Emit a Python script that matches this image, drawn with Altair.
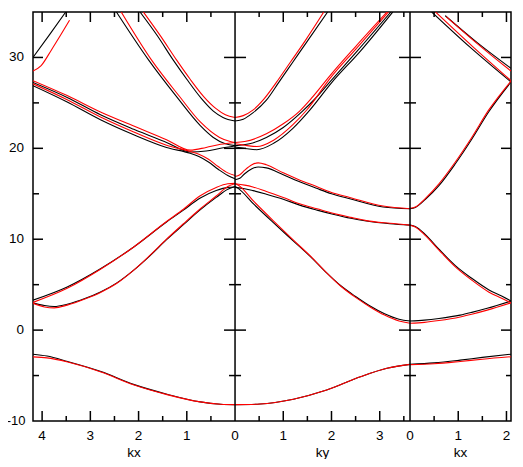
import altair as alt
import pandas as pd

# extents of the three k-path panels
KX1 = 4.189   # left panel: kx from KX1 down to 0
KY = 3.628    # middle panel: ky from 0 to KY
KX3 = 2.094   # right panel: kx from 0 to KX3

# ---------------- panel 1 (kx, decreasing left to right) ----------------
p1_low_k = [4.19, 3.9, 3.47, 2.78, 2.09, 1.41, 0.72, 0.3, 0.0]
p1_low_black = [-2.65, -2.85, -3.45, -4.55, -6.0, -7.05, -7.9, -8.15, -8.2]
p1_low_red = [-2.95, -3.05, -3.5, -4.6, -6.05, -7.1, -7.9, -8.15, -8.2]

p1_va_k = [4.19, 3.48, 2.79, 2.10, 1.42, 1.07, 0.73, 0.39, 0.15, 0.0]
p1_va_black = [3.3, 4.75, 6.75, 9.15, 11.9, 13.2, 14.5, 15.35, 15.7, 15.75]
p1_va_red = [3.05, 4.6, 6.7, 9.15, 11.95, 13.3, 14.75, 15.7, 16.1, 16.15]

p1_vb_k = [4.19, 3.95, 3.75, 3.48, 3.1, 2.79, 2.45, 2.10, 1.76, 1.42, 1.07, 0.73, 0.39, 0.15, 0.0]
p1_vb_black = [3.0, 2.7, 2.6, 2.85, 3.5, 4.2, 5.2, 6.6, 8.2, 9.95, 11.6, 13.2, 14.6, 15.5, 15.8]
p1_vb_red = [2.95, 2.55, 2.45, 2.75, 3.45, 4.15, 5.15, 6.6, 8.25, 10.0, 11.7, 13.3, 14.75, 15.8, 16.1]

p1_p_k = [4.19, 3.48, 2.79, 2.10, 1.42, 0.93, 0.6, 0.3, 0.0]
p1_p_black = [27.25, 25.6, 23.7, 22.1, 20.65, 19.6, 19.7, 20.0, 20.25]
p1_p_red = [27.45, 25.8, 24.0, 22.45, 20.95, 19.8, 20.1, 20.45, 20.65]

p1_q_k = [4.19, 3.48, 2.79, 2.10, 1.42, 0.93, 0.75, 0.55, 0.35, 0.15, 0.0]
p1_q_black = [26.9, 25.1, 23.15, 21.5, 20.1, 19.45, 19.1, 18.5, 17.7, 17.0, 16.65]
p1_q_red = [27.1, 25.35, 23.45, 21.8, 20.35, 19.65, 19.35, 18.8, 18.0, 17.3, 17.0]

p1_t_k_black = [4.19, 3.86, 3.51]
p1_t_black = [30.0, 32.4, 35.0]
p1_t_k_red = [4.19, 4.02, 3.81, 3.6, 3.43]
p1_t_red = [28.5, 29.1, 30.8, 32.6, 34.1]

p1_par_k_black = [1.97, 1.6, 1.28, 1.0, 0.7, 0.45, 0.25, 0.0]
p1_par_black = [35.0, 32.3, 29.7, 27.6, 25.5, 24.1, 23.4, 23.0]
p1_par_k_red = [1.90, 1.55, 1.21, 0.93, 0.65, 0.4, 0.2, 0.0]
p1_par_red = [35.0, 32.4, 29.7, 27.6, 25.7, 24.4, 23.7, 23.4]

p1_out_k_black = [2.46, 1.79, 1.2, 0.72, 0.45, 0.2, 0.0]
p1_out_black = [35.0, 29.7, 25.6, 22.5, 21.2, 20.5, 20.3]
p1_out_k_red = [2.36, 1.73, 1.15, 0.72, 0.32, 0.1, 0.0]
p1_out_red = [35.0, 29.7, 25.7, 22.9, 21.2, 20.75, 20.65]

# ---------------- panel 2 (ky) ----------------
p2_low_k = [0.0, 0.52, 1.21, 1.9, 2.6, 3.15, 3.628]
p2_low_black = [-8.2, -8.13, -7.6, -6.6, -5.13, -4.2, -3.77]
p2_low_red = [-8.2, -8.13, -7.6, -6.6, -5.13, -4.2, -3.77]

p2_steep_k = [0.0, 0.05, 0.4, 0.8, 1.2, 1.6, 1.9, 2.2, 2.5, 2.8, 3.1, 3.4, 3.628]
p2_steep_black = [15.8, 15.65, 13.8, 11.8, 9.85, 7.9, 6.3, 4.85, 3.7, 2.65, 1.8, 1.2, 1.0]
p2_steep_red = [16.1, 16.0, 14.1, 12.0, 9.95, 7.95, 6.3, 4.8, 3.6, 2.55, 1.65, 1.0, 0.75]

p2_gentle_k = [0.0, 0.2, 0.37, 0.65, 1.0, 1.34, 1.7, 2.03, 2.4, 2.72, 3.21, 3.628]
p2_gentle_black = [15.7, 15.55, 15.35, 14.95, 14.4, 13.75, 13.2, 12.75, 12.3, 12.0, 11.7, 11.55]
p2_gentle_red = [16.1, 15.95, 15.75, 15.25, 14.6, 13.9, 13.35, 12.85, 12.4, 12.05, 11.75, 11.55]

p2_hump_k = [0.0, 0.1, 0.2, 0.35, 0.48, 0.65, 1.0, 1.3, 1.69, 2.0, 2.38, 3.07, 3.628]
p2_hump_black = [16.55, 16.7, 17.2, 17.75, 17.95, 17.85, 17.1, 16.4, 15.6, 15.0, 14.45, 13.55, 13.35]
p2_hump_red = [16.9, 17.1, 17.6, 18.2, 18.4, 18.2, 17.3, 16.6, 15.8, 15.15, 14.6, 13.65, 13.35]

p2_par_k_black = [0.0, 0.17, 0.37, 0.65, 0.9, 1.2, 1.5, 1.92]
p2_par_black = [23.0, 23.2, 23.9, 25.3, 27.2, 29.5, 31.8, 35.0]
p2_par_k_red = [0.0, 0.17, 0.37, 0.58, 0.85, 1.15, 1.45, 1.84]
p2_par_red = [23.4, 23.6, 24.2, 25.3, 27.2, 29.5, 31.8, 35.0]

p2_up_k_black = [0.0, 0.3, 0.65, 1.0, 1.4, 1.65, 2.0, 2.55, 3.23]
p2_up_black = [20.3, 20.5, 21.2, 22.3, 24.1, 25.4, 27.5, 30.8, 35.0]
p2_up_k_red = [0.0, 0.2, 0.65, 1.0, 1.34, 1.6, 1.97, 2.5, 3.15]
p2_up_red = [20.65, 20.75, 21.6, 22.7, 24.1, 25.6, 28.0, 31.2, 35.0]

p2_dip_k_black = [0.0, 0.25, 0.45, 0.8, 1.2, 1.55, 2.0, 2.6, 3.27]
p2_dip_black = [20.15, 19.95, 19.85, 20.55, 22.2, 24.2, 27.2, 30.7, 35.0]
p2_dip_k_red = [0.0, 0.25, 0.45, 0.8, 1.2, 1.5, 1.97, 2.5, 3.18]
p2_dip_red = [20.5, 20.3, 20.2, 20.9, 22.6, 24.3, 27.7, 30.9, 35.0]

# ---------------- panel 3 (kx) ----------------
p3_low_k = [0.0, 0.5, 1.04, 1.5, 2.094]
p3_low_black = [-3.75, -3.6, -3.3, -3.0, -2.65]
p3_low_red = [-3.8, -3.7, -3.45, -3.2, -2.93]

p3_x_k = [0.0, 0.3, 0.6, 1.04, 1.28, 1.6, 2.094]
p3_x_black = [1.0, 1.1, 1.28, 1.65, 1.95, 2.4, 3.2]
p3_x_red = [0.75, 0.85, 1.05, 1.45, 1.75, 2.2, 3.0]

p3_w_k = [0.0, 0.11, 0.32, 0.6, 0.94, 1.28, 1.63, 1.9, 2.094]
p3_w_black = [11.55, 11.4, 10.5, 8.9, 7.1, 5.7, 4.45, 3.75, 3.2]
p3_w_red = [11.55, 11.35, 10.4, 8.8, 6.96, 5.5, 4.2, 3.5, 3.0]

p3_v_k = [0.0, 0.11, 0.32, 0.6, 0.94, 1.28, 1.63, 2.094]
p3_v_black = [13.35, 13.5, 14.4, 15.9, 18.3, 21.0, 24.0, 27.3]
p3_v_red = [13.4, 13.55, 14.5, 16.1, 18.5, 21.2, 24.2, 27.4]

p3_u1_k_black = [0.45, 1.25, 2.094]
p3_u1_black = [35.0, 31.1, 27.3]
p3_u1_k_red = [0.53, 1.3, 2.094]
p3_u1_red = [35.0, 31.2, 27.45]

p3_u2_k_black = [0.73, 1.4, 2.094]
p3_u2_black = [34.6, 31.6, 28.8]
p3_u2_k_red = [0.75, 1.4, 2.094]
p3_u2_red = [34.5, 31.5, 28.5]

# ---------------- ticks and labels ----------------
y_major = [0, 10, 20, 30]
y_minor = [-5, 5, 15, 25]
y_labels = ["30", "20", "10", "0"]
y_label_vals = [30, 20, 10, 0]
y_neg_label = ["-10"]
y_neg_val = [-10]

p1_major = [4, 3, 2, 1]
p1_minor = [3.5, 2.5, 1.5, 0.5]
p2_major = [1, 2, 3]
p2_minor = [0.5, 1.5, 2.5, 3.5]
p3_major = [1, 2]
p3_minor = [0.5, 1.5]

p1_ticklabels = ["4", "3", "2", "1", "0"]
p1_ticklabel_k = [4, 3, 2, 1, 0]
p2_ticklabels = ["1", "2", "3"]
p2_ticklabel_k = [1, 2, 3]
p3_ticklabels = ["0", "1", "2"]
p3_ticklabel_k = [0, 1, 2]
panel_titles = ["kx", "ky", "kx"]

YMIN, YMAX = -10, 35
TOTAL = KX1 + KY + KX3


def to_s(panel, k):
    if panel == 1:
        return KX1 - k
    if panel == 2:
        return KX1 + k
    return KX1 + KY + k


segments = [
    (1, "low", "black", p1_low_k, p1_low_black), (1, "low", "red", p1_low_k, p1_low_red),
    (1, "va", "black", p1_va_k, p1_va_black), (1, "va", "red", p1_va_k, p1_va_red),
    (1, "vb", "black", p1_vb_k, p1_vb_black), (1, "vb", "red", p1_vb_k, p1_vb_red),
    (1, "p", "black", p1_p_k, p1_p_black), (1, "p", "red", p1_p_k, p1_p_red),
    (1, "q", "black", p1_q_k, p1_q_black), (1, "q", "red", p1_q_k, p1_q_red),
    (1, "t", "black", p1_t_k_black, p1_t_black), (1, "t", "red", p1_t_k_red, p1_t_red),
    (1, "par", "black", p1_par_k_black, p1_par_black), (1, "par", "red", p1_par_k_red, p1_par_red),
    (1, "out", "black", p1_out_k_black, p1_out_black), (1, "out", "red", p1_out_k_red, p1_out_red),
    (2, "low", "black", p2_low_k, p2_low_black), (2, "low", "red", p2_low_k, p2_low_red),
    (2, "steep", "black", p2_steep_k, p2_steep_black), (2, "steep", "red", p2_steep_k, p2_steep_red),
    (2, "gentle", "black", p2_gentle_k, p2_gentle_black), (2, "gentle", "red", p2_gentle_k, p2_gentle_red),
    (2, "hump", "black", p2_hump_k, p2_hump_black), (2, "hump", "red", p2_hump_k, p2_hump_red),
    (2, "par", "black", p2_par_k_black, p2_par_black), (2, "par", "red", p2_par_k_red, p2_par_red),
    (2, "up", "black", p2_up_k_black, p2_up_black), (2, "up", "red", p2_up_k_red, p2_up_red),
    (2, "dip", "black", p2_dip_k_black, p2_dip_black), (2, "dip", "red", p2_dip_k_red, p2_dip_red),
    (3, "low", "black", p3_low_k, p3_low_black), (3, "low", "red", p3_low_k, p3_low_red),
    (3, "x", "black", p3_x_k, p3_x_black), (3, "x", "red", p3_x_k, p3_x_red),
    (3, "w", "black", p3_w_k, p3_w_black), (3, "w", "red", p3_w_k, p3_w_red),
    (3, "v", "black", p3_v_k, p3_v_black), (3, "v", "red", p3_v_k, p3_v_red),
    (3, "u1", "black", p3_u1_k_black, p3_u1_black), (3, "u1", "red", p3_u1_k_red, p3_u1_red),
    (3, "u2", "black", p3_u2_k_black, p3_u2_black), (3, "u2", "red", p3_u2_k_red, p3_u2_red),
]

rows = []
for panel, name, color, ks, es in segments:
    pts = sorted((to_s(panel, k), e) for k, e in zip(ks, es))
    for i, (s, e) in enumerate(pts):
        rows.append({"s": s, "E": e, "color": color, "seg": f"{panel}-{name}-{color}", "i": i})
bands = pd.DataFrame(rows)

xs = alt.Scale(domain=[0, TOTAL], nice=False, zero=False)
ys = alt.Scale(domain=[YMIN, YMAX], nice=False, zero=False)
X = alt.X("s:Q", scale=xs, axis=None)
Y = alt.Y("E:Q", scale=ys, axis=None)


def band_layer(color):
    return (
        alt.Chart(bands)
        .transform_filter(alt.datum.color == color)
        .mark_line(color="#000000" if color == "black" else "#ff0000", strokeWidth=1.1,
                   interpolate="monotone", clip=True)
        .encode(x=X, y=Y, detail="seg:N", order="i:Q")
    )


def hticks(svals, yvals, xoff, x2off):
    df = pd.DataFrame([{"s": s, "E": y} for s in svals for y in yvals])
    return alt.Chart(df).mark_rule(color="black", strokeWidth=1.5, xOffset=xoff, x2Offset=x2off).encode(
        x=X, x2="s:Q", y=Y)


def vticks(svals, yval, y2off):
    df = pd.DataFrame({"s": svals, "E": [yval] * len(svals)})
    return alt.Chart(df).mark_rule(color="black", strokeWidth=1.5, y2Offset=y2off).encode(
        x=X, y=Y, y2="E:Q")


seps = [KX1, KX1 + KY]
sep_df = pd.DataFrame({"s": seps, "E": [YMIN, YMIN], "E2": [YMAX, YMAX]})
sep_layer = alt.Chart(sep_df).mark_rule(color="black", strokeWidth=1.5).encode(x=X, y=Y, y2="E2:Q")

x_major_s = [to_s(1, k) for k in p1_major] + [to_s(2, k) for k in p2_major] + [to_s(3, k) for k in p3_major]
x_minor_s = [to_s(1, k) for k in p1_minor] + [to_s(2, k) for k in p2_minor] + [to_s(3, k) for k in p3_minor]

tick_layers = [
    hticks([0], y_major, 0, 10), hticks([0], y_minor, 0, 6),
    hticks(seps, y_major, -11, 11), hticks(seps, y_minor, -6, 6),
    hticks([TOTAL], y_major, -10, 0), hticks([TOTAL], y_minor, -5, 0),
    vticks(x_major_s, YMIN, -10), vticks(x_minor_s, YMIN, -5),
    vticks(x_major_s, YMAX, 10), vticks(x_minor_s, YMAX, 5),
]

FONT = "Liberation Sans"
ylab_df = pd.DataFrame({"s": [0] * len(y_labels), "E": y_label_vals, "label": y_labels})
ylab = alt.Chart(ylab_df).mark_text(align="right", baseline="middle", dx=-9, fontSize=13.5, font=FONT,
                                    color="black").encode(x=X, y=Y, text="label:N")
yneg_df = pd.DataFrame({"s": [0], "E": y_neg_val, "label": y_neg_label})
yneg = alt.Chart(yneg_df).mark_text(align="right", baseline="middle", dx=-7.5, fontSize=13, font=FONT,
                                    color="black").encode(x=X, y=Y, text="label:N")

xl_s = [to_s(1, k) for k in p1_ticklabel_k] + [to_s(2, k) for k in p2_ticklabel_k] + [to_s(3, k) for k in p3_ticklabel_k]
xl_t = p1_ticklabels + p2_ticklabels + p3_ticklabels
xlab_df = pd.DataFrame({"s": xl_s, "E": [YMIN] * len(xl_s), "label": xl_t})
xlab = alt.Chart(xlab_df).mark_text(align="center", baseline="alphabetic", dy=18.5, fontSize=13.5, font=FONT,
                                    color="black").encode(x=X, y=Y, text="label:N")

title_df = pd.DataFrame({"s": [KX1 / 2, KX1 + KY / 2, KX1 + KY + KX3 / 2], "E": [YMIN] * 3,
                         "label": panel_titles})
tlab = alt.Chart(title_df).mark_text(align="center", baseline="alphabetic", dy=35.5, fontSize=13.5, font=FONT,
                                     color="black").encode(x=X, y=Y, text="label:N")

chart = alt.layer(
    band_layer("black"), band_layer("red"), sep_layer, *tick_layers, ylab, yneg, xlab, tlab
).properties(
    width=478, height=409,
    padding={"left": 25, "top": 4, "right": 4, "bottom": 38},
    autosize=alt.AutoSizeParams(type="none"),
).configure_view(stroke="black", strokeWidth=1.5)

chart.save("out.html", embed_options={"renderer": "svg", "actions": False})
